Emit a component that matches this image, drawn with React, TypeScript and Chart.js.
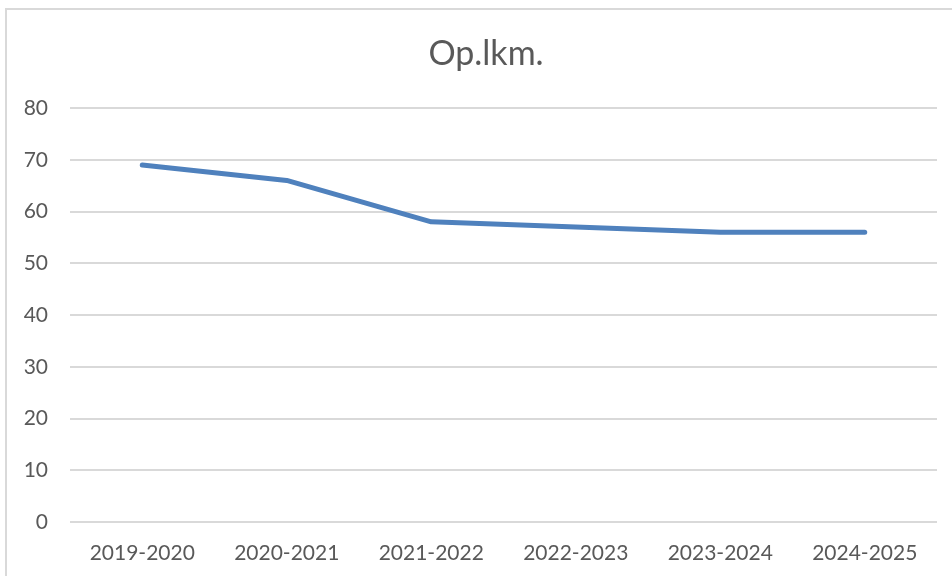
import React, { useEffect, useRef } from "react";
import { Chart, registerables } from "chart.js";

Chart.register(...registerables);

const categories = ["2019-2020", "2020-2021", "2021-2022", "2022-2023", "2023-2024", "2024-2025"];
const values = [69, 66, 58, 57, 56, 56];
const chartTitle = "Op.lkm.";
const yMin = 0;
const yMax = 80;
const yStep = 10;

const titlePlugin = {
  id: "offsetTitle",
  afterDraw(chart: any) {
    const ctx = chart.ctx;
    ctx.save();
    ctx.font = "normal 34px Lato";
    ctx.fillStyle = "#595959";
    ctx.textAlign = "center";
    ctx.textBaseline = "middle";
    ctx.fillText(chartTitle, 486, 54);
    ctx.restore();
  },
};

export default function App() {
  const canvasRef = useRef<HTMLCanvasElement | null>(null);

  useEffect(() => {
    if (!canvasRef.current) return;
    const chart = new Chart(canvasRef.current, {
      type: "line",
      data: {
        labels: categories,
        datasets: [
          {
            label: chartTitle,
            data: values,
            borderColor: "#4f81bd",
            backgroundColor: "#4f81bd",
            borderWidth: 5,
            pointRadius: 0,
            pointHoverRadius: 0,
            borderJoinStyle: "round",
            borderCapStyle: "round",
            tension: 0,
            fill: false,
          },
        ],
      },
      options: {
        animation: false,
        responsive: false,
        maintainAspectRatio: false,
        layout: { padding: { top: 108, right: 15, bottom: 0, left: 0 } },
        plugins: {
          legend: { display: false },
          tooltip: { enabled: false },
          title: { display: false },
        },
        scales: {
          x: {
            offset: true,
            grid: { display: false, drawTicks: false },
            border: { display: false },
            ticks: {
              color: "#595959",
              font: { family: "Lato", size: 21 },
              padding: 19,
              maxRotation: 0,
            },
            afterFit: (scale: any) => {
              scale.height = 54;
            },
          },
          y: {
            min: yMin,
            max: yMax,
            grid: { color: "#d9d9d9", lineWidth: 2, drawTicks: false },
            border: { display: false },
            ticks: {
              stepSize: yStep,
              color: "#595959",
              font: { family: "Lato", size: 21 },
              padding: 22,
            },
            afterFit: (scale: any) => {
              scale.width = 70;
            },
          },
        },
      },
      plugins: [titlePlugin],
    });
    return () => chart.destroy();
  }, []);

  return (
    <div style={{ position: "fixed", left: 0, top: 0, width: 952, height: 576, overflow: "hidden", background: "#fff" }}>
      <div
        style={{
          position: "absolute",
          left: 5,
          top: 8,
          width: 1000,
          height: 700,
          border: "2px solid #d9d9d9",
          boxSizing: "border-box",
        }}
      />
      <canvas ref={canvasRef} width={952} height={576} style={{ position: "absolute", left: 0, top: 0 }} />
    </div>
  );
}
